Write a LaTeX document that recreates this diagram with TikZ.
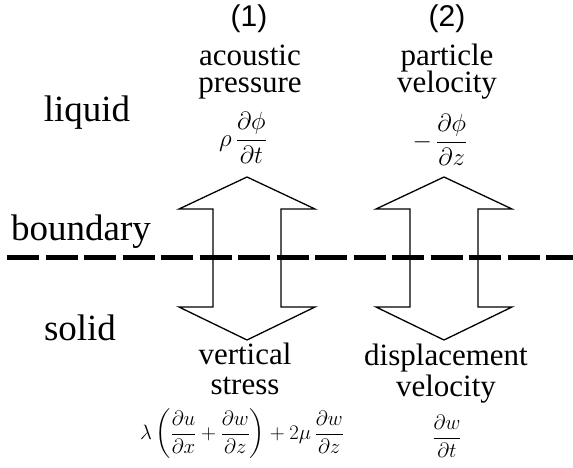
\documentclass[tikz,border=0pt]{standalone}
\usepackage{amsmath}
\usepackage{fontspec}
\setmainfont{Liberation Serif}
\setsansfont{Liberation Sans}
\usetikzlibrary{positioning}
\tikzset{
  region/.style={font=\fontsize{37}{40}\selectfont, anchor=base, inner sep=0pt},
  quantity/.style={font=\fontsize{31}{24}\selectfont, anchor=base, inner sep=0pt},
  casenum/.style={font=\sffamily\fontsize{30}{30}\selectfont, inner sep=0pt},
  formula/.style={font=\fontsize{31}{34}\selectfont, inner sep=0pt},
  smallformula/.style={font=\fontsize{22.5}{26}\selectfont, inner sep=0pt},
  bigarrow/.style={draw, line width=1.3pt, line join=miter},
  interface/.style={line width=5pt, dash pattern=on 32pt off 6.5pt},
}

\begin{document}
\begin{tikzpicture}[x=1pt, y=-1pt]
\useasboundingbox (0,0) rectangle (573,468);
% boundary between the two media
\coordinate (bl) at (7,257);
\coordinate (br) at (573,257);
\draw[interface] (bl) -- (br);
% the two double arrows
\foreach \cx in {247, 444} {
  \draw[bigarrow] (\cx,177) -- ++(68,32) -- ++(-34,0) -- ++(0,98) -- ++(34,0)
    -- (\cx,340) -- ++(-68,-33) -- ++(34,0) -- ++(0,-98) -- ++(-34,0) -- cycle;
}
% media
\node[region] (liquid) at (87,122) {liquid};
\node[region] (bnd) at (81,240) {boundary};
\node[region] (solid) at (80,340) {solid};
% case (1)
\node[casenum] (n1) at (249,19) {(1)};
\node[quantity] (ac) at (250,66) {acoustic};
\node[quantity] (pr) at (250,93) {pressure};
\node[formula] (press) at (243,138) {$\displaystyle \rho\,\frac{\partial\phi}{\partial t}$};
\node[quantity] (vert) at (245,364) {vertical};
\node[quantity] (str) at (245,394) {stress};
\node[smallformula] (stress) at (242,434) {$\displaystyle \lambda\left(\frac{\partial u}{\partial x}+\frac{\partial w}{\partial z}\right)+2\mu\,\frac{\partial w}{\partial z}$};
% case (2)
\node[casenum] (n2) at (447,19) {(2)};
\node[quantity] (pa) at (447,66) {particle};
\node[quantity] (ve) at (447,93) {velocity};
\node[formula] (pvel) at (440,140) {$\displaystyle -\,\frac{\partial\phi}{\partial z}$};
\node[quantity] (disp) at (446,365) {displacement};
\node[quantity] (dve) at (446,396) {velocity};
\node[smallformula] (dvel) at (447,436) {$\displaystyle \frac{\partial w}{\partial t}$};
\end{tikzpicture}
\end{document}
